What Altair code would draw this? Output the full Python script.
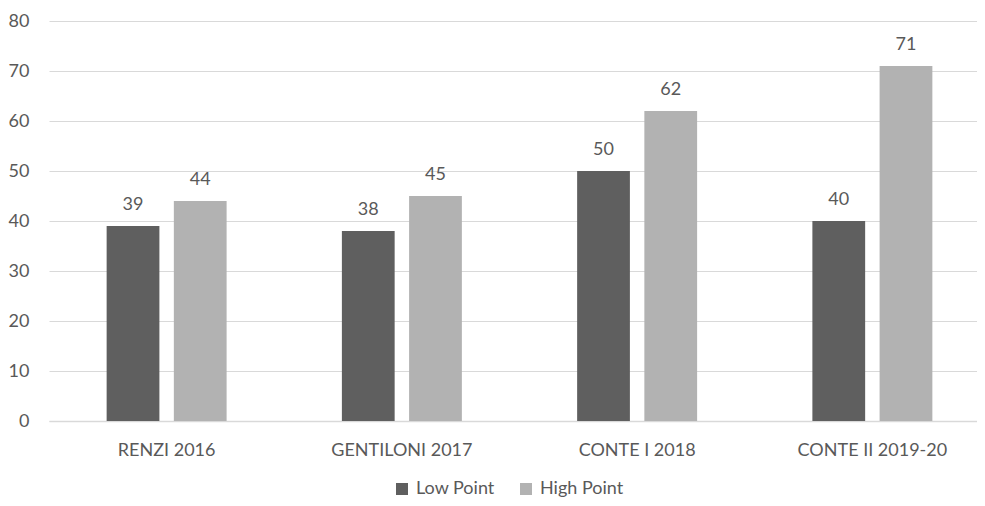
import altair as alt
import pandas as pd

categories = ["RENZI 2016", "GENTILONI 2017", "CONTE I 2018", "CONTE II 2019-20"]
low_point = [39, 38, 50, 40]
high_point = [44, 45, 62, 71]
series = ["Low Point", "High Point"]

rows = []
for c, lo, hi in zip(categories, low_point, high_point):
    rows.append({"cat": c, "series": series[0], "value": lo})
    rows.append({"cat": c, "series": series[1], "value": hi})
df = pd.DataFrame(rows)

FONT = "Lato"
FS = 18
TXT = "#595959"

base = alt.Chart(df).encode(
    x=alt.X("cat:N", sort=categories, title=None,
            scale=alt.Scale(range=[0, 941], paddingInner=0.49, paddingOuter=0.245),
            axis=alt.Axis(labelAngle=0, labelFont=FONT, labelFontSize=FS, labelColor=TXT,
                          ticks=False, domainColor="#d9d9d9", domainWidth=1.5, labelPadding=20)),
    xOffset=alt.XOffset("series:N", sort=series,
                        scale=alt.Scale(paddingInner=0.215, paddingOuter=0)),
)

bars = base.mark_bar().encode(
    y=alt.Y("value:Q", title=None,
            scale=alt.Scale(domain=[0, 80]),
            axis=alt.Axis(values=list(range(0, 81, 10)), labelFont=FONT, labelFontSize=FS,
                          labelColor=TXT, ticks=False, domain=False, gridColor="#d9d9d9",
                          gridWidth=1.2, labelPadding=20)),
    color=alt.Color("series:N", sort=series,
                    scale=alt.Scale(domain=series, range=["#5f5f5f", "#b2b2b2"]),
                    legend=alt.Legend(title=None, orient="none", direction="horizontal",
                                      legendX=344, legendY=459, symbolType="square",
                                      symbolSize=144, symbolStrokeWidth=0, labelFont=FONT,
                                      labelFontSize=FS, labelColor=TXT, columnPadding=22,
                                      labelOffset=5, symbolOffset=0)),
)

labels = base.mark_text(baseline="alphabetic", dy=-16, font=FONT, fontSize=FS, color=TXT).encode(
    y="value:Q",
    text="value:Q",
)

chart = (bars + labels).properties(
    width=928, height=400,
    autosize=alt.AutoSizeParams(type="none"),
    padding={"left": 41, "top": 13, "right": 0, "bottom": 77},
).configure(background="white").configure_view(stroke=None)

chart.save("out.html", embed_options={"renderer": "svg", "actions": False})
